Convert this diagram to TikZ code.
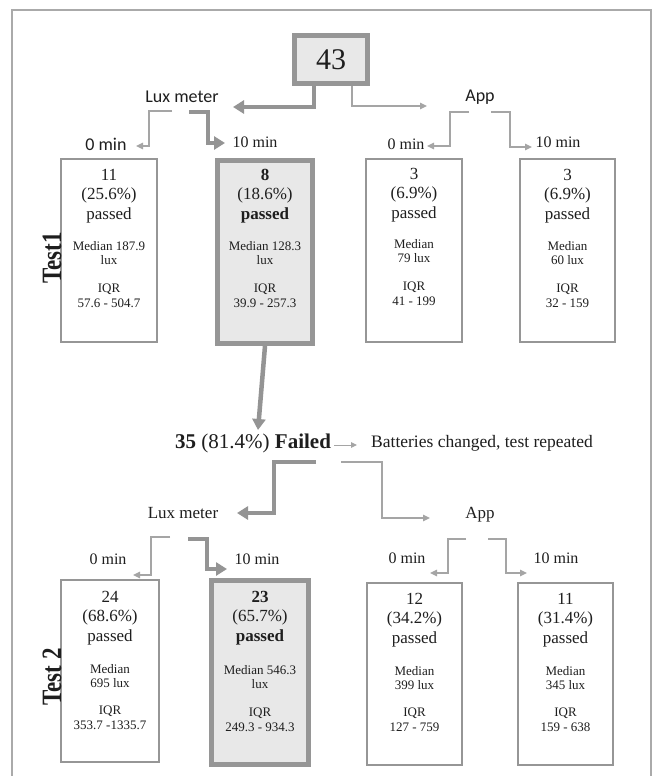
\documentclass[tikz,border=0pt]{standalone}
\usepackage{fontspec}
\setmainfont{Liberation Serif}
\newfontfamily\calib{Carlito}
\usetikzlibrary{arrows.meta,calc}
\definecolor{boxgray}{RGB}{150,150,150}
\definecolor{hifill}{RGB}{232,232,232}
\definecolor{arrgray}{RGB}{148,148,148}
\definecolor{thingray}{RGB}{165,165,165}
\definecolor{framegray}{RGB}{170,170,170}
\definecolor{txt}{RGB}{30,30,30}
\begin{document}
\begin{tikzpicture}[x=1pt,y=-1pt,
 every node/.style={inner sep=0pt, text=txt},
 thinbox/.style={draw=boxgray, line width=2pt, fill=white},
 hibox/.style={draw=boxgray, line width=5pt, fill=hifill},
 thinarr/.style={draw=thingray, line width=1.3pt, -{Triangle[length=7pt,width=6.5pt]}},
 thickarr/.style={draw=arrgray, line width=4.5pt, -{Triangle[length=11pt,width=13pt]}},
 bigt/.style={font=\fontsize{17}{19.5}\selectfont, align=center},
 smallt/.style={font=\fontsize{13}{14.5}\selectfont, align=center},
 lbl/.style={font=\fontsize{16}{18}\selectfont},
 lblbig/.style={font=\fontsize{17}{19}\selectfont},
 lblsans/.style={font=\calib\fontsize{18}{20}\selectfont},
 testlbl/.style={font=\fontsize{28}{28}\selectfont\bfseries, rotate=90}
]
\useasboundingbox (0,0) rectangle (653,776);
\fill[white] (0,0) rectangle (653,776);
% frame
\draw[framegray, line width=1.2pt] (12,776) -- (12,10) -- (651,10) -- (651,776);

% top
\node[hibox, minimum width=73, minimum height=48] (t) at (331,59.5) {\fontsize{30}{30}\selectfont 43};
\node[lblsans] (lux1) at (182,97) {Lux meter};
\node[lblsans] (app1) at (480,97) {App};
\node[lblsans] (m1) at (106,144) {0 min};
\node[lbl] (m2) at (255,142) {10 min};
\node[lbl] (m3) at (406,144) {0 min};
\node[lbl] (m4) at (558,142) {10 min};

\draw[thickarr] ($(t.south)+(-17,0)$) |- ($(lux1)+(51,10)$);
\draw[thinarr] ($(t.south)+(21,0)$) |- ($(app1)+(-53,9)$);
\draw[thinarr] ($(lux1)+(-10,14)$) -- ++(-23,0) |- ($(m1)+(30,2)$);
\draw[thickarr] ($(lux1)+(7,15)$) -- ++(19,0) |- ($(m2)+(-30,1)$);
\draw[thinarr] ($(app1)+(-11,15)$) -- ++(-19,0) |- ($(m3)+(21,2)$);
\draw[thinarr] ($(app1)+(11,15)$) -- ++(19,0) |- ($(m4)+(-26,5)$);

% row 1 boxes
\node[thinbox, minimum width=96, minimum height=183] (b1) at (109,250.5) {};
\node[hibox, minimum width=95, minimum height=183] (b2) at (265,252) {};
\node[thinbox, minimum width=96, minimum height=183] (b3) at (414,250.5) {};
\node[thinbox, minimum width=95, minimum height=183] (b4) at (567.5,250.5) {};

\node[bigt] (b1a) at (109,196) {11\\(25.6\%)\\passed};
\node[smallt] (b1b) at (109,253) {Median 187.9\\lux};
\node[smallt] (b1c) at (109,296) {IQR\\57.6 - 504.7};

\node[bigt] (b2a) at (265,196) {\textbf{8}\\(18.6\%)\\\textbf{passed}};
\node[smallt] (b2b) at (265,253) {Median 128.3\\lux};
\node[smallt] (b2c) at (265,296) {IQR\\39.9 - 257.3};

\node[bigt] (b3a) at (414,195) {3\\(6.9\%)\\passed};
\node[smallt] (b3b) at (414,251) {Median\\79 lux};
\node[smallt] (b3c) at (414,294) {IQR\\41 - 199};

\node[bigt] (b4a) at (567.5,196) {3\\(6.9\%)\\passed};
\node[smallt] (b4b) at (567.5,253) {Median\\60 lux};
\node[smallt] (b4c) at (567.5,296) {IQR\\32 - 159};

\node[testlbl] (test1) at (52,258) {\scalebox{0.82}[1]{Test1}};

% failed line
\node[font=\fontsize{21}{23}\selectfont, anchor=west] (fail) at (175,443) {\textbf{35} (81.4\%) \textbf{Failed}};
\node[font=\fontsize{17.5}{20}\selectfont] (bat) at (482,443) {Batteries changed, test repeated};
\draw[thickarr] (b2.south) -- ($(fail.west)+(83,-13)$);
\draw[thinarr, line width=1pt, -{Triangle[length=6pt,width=5.5pt]}] ($(fail.east)+(3,2)$) -- ($(bat.west)+(-14,2)$);

% lower
\node[lblbig] (lux2) at (183,513) {Lux meter};
\node[lblbig] (app2) at (480,515) {App};
\node[lbl] (m5) at (108,559) {0 min};
\node[lbl] (m6) at (257,559) {10 min};
\node[lbl] (m7) at (407,558) {0 min};
\node[lbl] (m8) at (556,558) {10 min};

\draw[thickarr] ($(fail.east)+(-15,19)$) -- ++(-42,0) |- ($(lux2)+(54,0)$);
\draw[thinarr] ($(fail.east)+(10,19)$) -- ++(41,0) |- ($(app2)+(-50,3)$);
\draw[thinarr] ($(lux2)+(-13,24)$) -- ++(-19,0) |- ($(m5)+(25,16)$);
\draw[thickarr] ($(lux2)+(5,26)$) -- ++(19,0) |- ($(m6)+(-30,10)$);
\draw[thinarr] ($(app2)+(-14,24)$) -- ++(-18,0) |- ($(m7)+(23,15)$);
\draw[thinarr] ($(app2)+(8,24)$) -- ++(18,0) |- ($(m8)+(-29,15)$);

% row 2 boxes
\node[thinbox, minimum width=98, minimum height=182] (b5) at (110,671) {};
\node[hibox, minimum width=97, minimum height=184] (b6) at (260,672.5) {};
\node[thinbox, minimum width=95, minimum height=182] (b7) at (414.5,674) {};
\node[thinbox, minimum width=95, minimum height=182] (b8) at (565.5,674) {};

\node[bigt] (b5a) at (110,618) {24\\(68.6\%)\\passed};
\node[smallt] (b5b) at (110,676) {Median\\695 lux};
\node[smallt] (b5c) at (110,718) {IQR\\353.7 -1335.7};

\node[bigt] (b6a) at (260,618) {\textbf{23}\\(65.7\%)\\\textbf{passed}};
\node[smallt] (b6b) at (260,677) {Median 546.3\\lux};
\node[smallt] (b6c) at (260,720) {IQR\\249.3 - 934.3};

\node[bigt] (b7a) at (414.5,620) {12\\(34.2\%)\\passed};
\node[smallt] (b7b) at (414.5,678) {Median\\399 lux};
\node[smallt] (b7c) at (414.5,720) {IQR\\127 - 759};

\node[bigt] (b8a) at (565.5,620) {11\\(31.4\%)\\passed};
\node[smallt] (b8b) at (565.5,678) {Median\\345 lux};
\node[smallt] (b8c) at (565.5,720) {IQR\\159 - 638};

\node[testlbl] (test2) at (52,677) {\scalebox{0.82}[1]{Test 2}};
\end{tikzpicture}
\end{document}
